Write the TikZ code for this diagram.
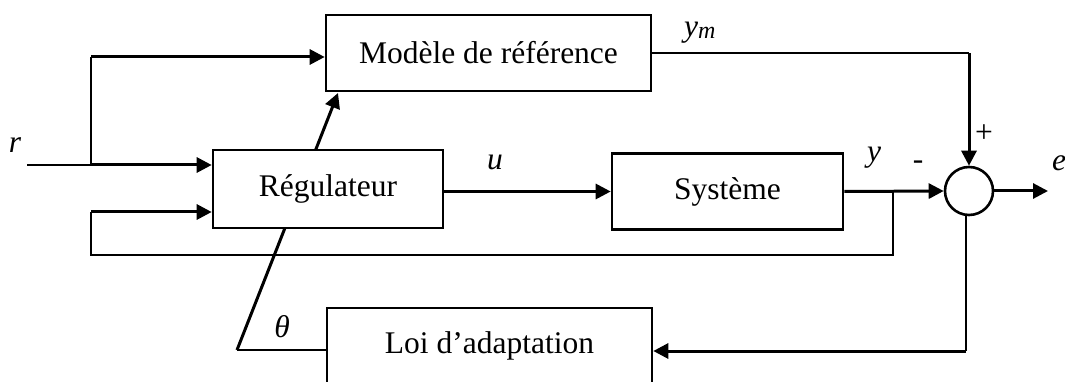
\documentclass[tikz,border=0pt]{standalone}
\usepackage{fontspec}
\setmainfont{Liberation Serif}
\usetikzlibrary{arrows.meta}
\begin{document}
\begin{tikzpicture}[x=1pt,y=-1pt,
  blk/.style={draw,line width=2.6pt,fill=white,inner sep=0pt,font=\fontsize{31.5}{38}\selectfont},
  thk/.style={line width=3pt},
  thn/.style={line width=1.4pt},
  arr/.style={thk,-{Triangle[length=15pt,width=15pt]}},
  lbl/.style={font=\fontsize{31.5}{38}\selectfont\itshape,inner sep=0pt},
  sgn/.style={font=\fontsize{31.5}{38}\selectfont,inner sep=0pt}]
\useasboundingbox (0,0) rectangle (1065,382);
% parameter adjustment line (passes behind the regulator)
\coordinate (sA) at (237,350);
\coordinate (sB) at (338,93);
\draw[arr] (sA) -- (sB);
% blocks
\node[blk,minimum width=325pt,minimum height=76pt] (model) at (488.5,53) {Modèle de référence};
\node[blk,minimum width=230pt,minimum height=78pt] (reg) at (328,189) {Régulateur};
\node[blk,minimum width=231pt,minimum height=76pt] (sys) at (727.5,191.5) {Système};
\node[blk,minimum width=325pt,minimum height=76pt] (loi) at (489.5,346) {Loi d’adaptation};
\node[draw,circle,line width=2.6pt,minimum size=48pt,inner sep=0pt] (sum) at (969,191) {};
% reference input
\coordinate (rin) at (27,165);
\coordinate (rj) at (91,165);
\coordinate (rtop) at (91,57);
\draw[thn] (rin) -- (rj) -- (rtop);
\draw[arr] (rj) -- (rj -| reg.west);
\draw[arr] (rtop) -- (rtop -| model.west);
% control signal
\draw[arr] (reg.east |- sys.west) -- (sys.west);
\draw[arr] (sys.east) -- (sum.west);
% feedback of y
\coordinate (yb) at (893,191.5);
\coordinate (fb1) at (893,255);
\coordinate (fb2) at (91,255);
\coordinate (fb3) at (91,212);
\draw[thn] (yb) -- (fb1) -- (fb2) -- (fb3);
\draw[arr] (fb3) -- (fb3 -| reg.west);
% model output
\coordinate (ymc) at (sum.north |- model.east);
\draw[thn] (model.east) -- (ymc);
\draw[arr] (ymc) -- (sum.north);
% error output
\coordinate (eout) at (1048,191);
\draw[arr] (sum.east) -- (eout);
% to adaptation law
\coordinate (ld) at (966,351);
\draw[thn] (sum.south -| ld) -- (ld);
\draw[arr] (ld) -- (ld -| loi.east);
% theta
\draw[thn] (sA) -- (sA -| loi.west);
% labels
\node[lbl] (rl) at (15,145) {r};
\node[lbl] (ul) at (495,162) {u};
\node[lbl] (yl) at (874,158) {y};
\node[lbl,anchor=base west] (yml) at (684,37) {y\raisebox{-2pt}{\fontsize{24}{28}\selectfont m}};
\node[sgn] (minus) at (918,165) {-};
\node[sgn] (plus) at (984,134) {+};
\node[lbl] (el) at (1059,163) {e};
\node[lbl] (th) at (282,327) {θ};
\end{tikzpicture}
\end{document}
